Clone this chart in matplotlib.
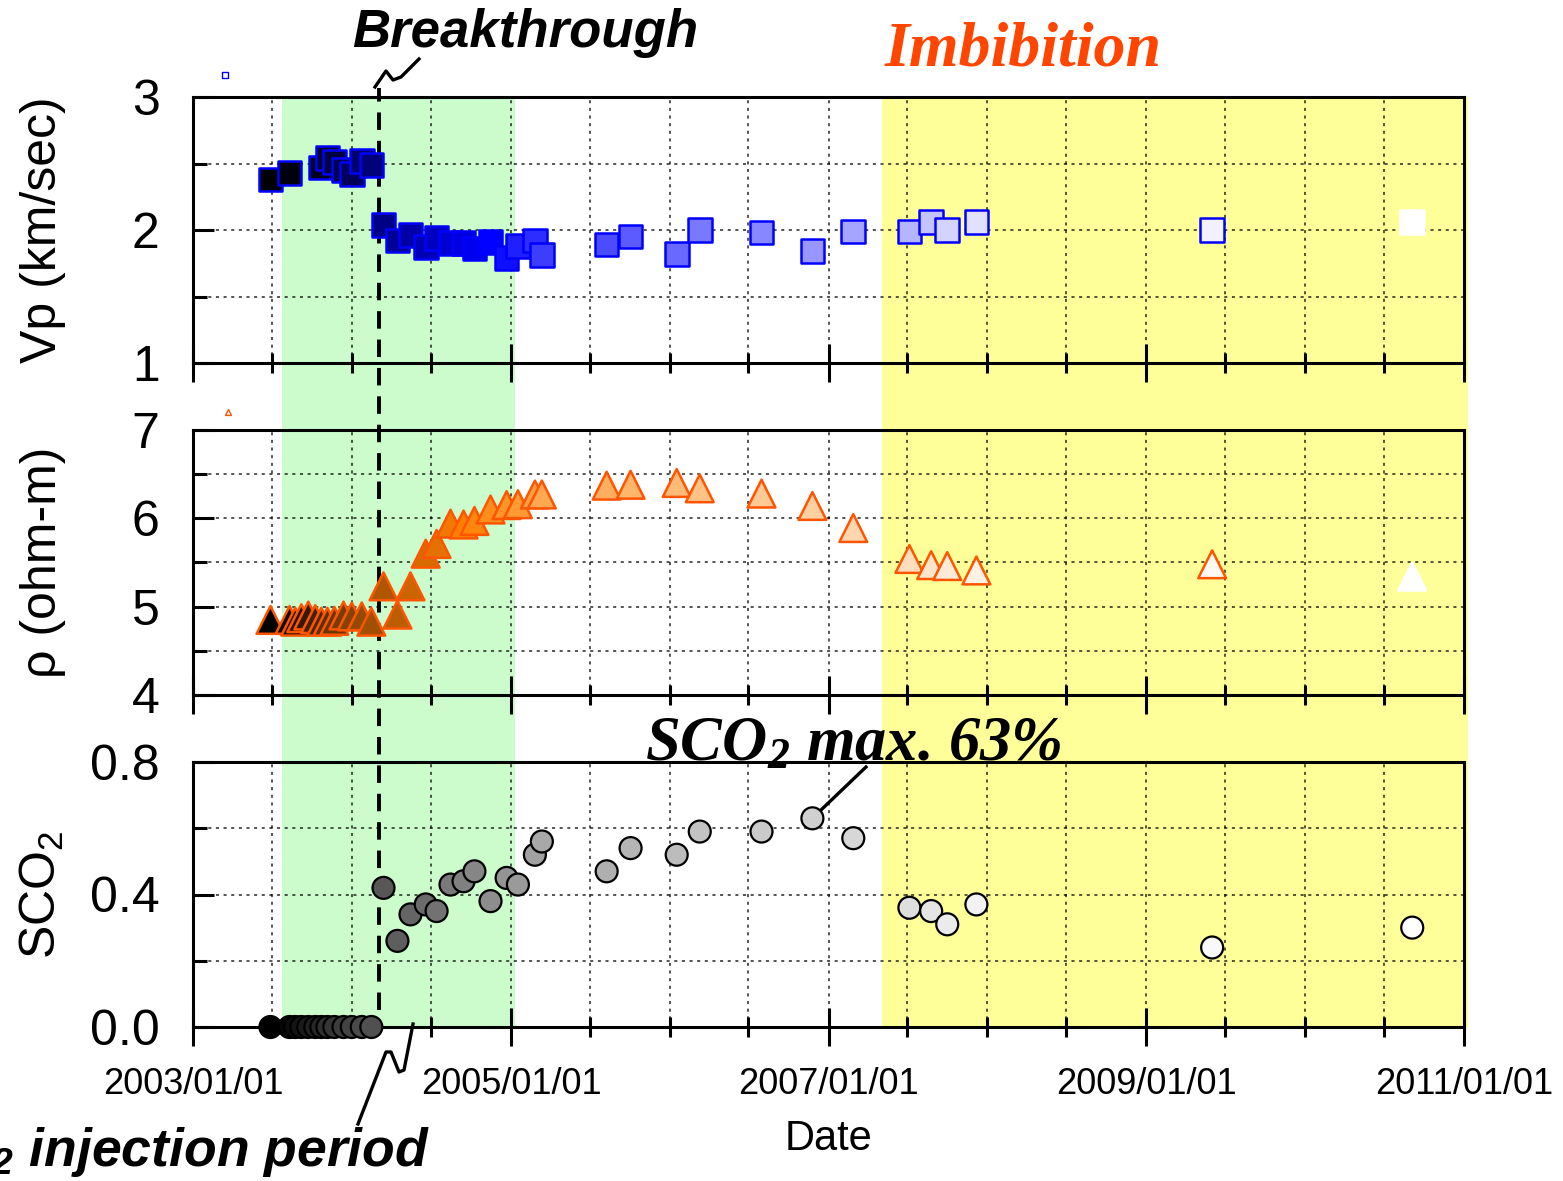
import matplotlib
matplotlib.use('Agg')
import matplotlib.pyplot as plt
import matplotlib.dates as mdates
import matplotlib.transforms as mtransforms
from matplotlib.colors import LinearSegmentedColormap
from matplotlib.lines import Line2D
from matplotlib.ticker import MultipleLocator, FixedLocator
import numpy as np
import pandas as pd

# ---- data ----
# dates of resistivity / CO2 saturation logs
log_dates = ['2003-06-28',
             '2003-08-11', '2003-08-24', '2003-09-07', '2003-09-23', '2003-10-09', '2003-10-23',
             '2003-11-06', '2003-11-22', '2003-12-13', '2004-01-01', '2004-01-24', '2004-02-15',
             '2004-03-14', '2004-04-15', '2004-05-15', '2004-06-19', '2004-07-14', '2004-08-15',
             '2004-09-14', '2004-10-09', '2004-11-15', '2004-12-22', '2005-01-17', '2005-02-25',
             '2005-03-13',
             '2005-08-09', '2005-10-03', '2006-01-17', '2006-03-11', '2006-07-31', '2006-11-25',
             '2007-02-27', '2007-07-06', '2007-08-25', '2007-10-01', '2007-12-07', '2009-06-01',
             '2010-09-04']
rho_vals = [4.85,
            4.85, 4.83, 4.87, 4.90, 4.86, 4.83, 4.83, 4.84, 4.90, 4.89, 4.89, 4.83,
            5.23, 4.91, 5.23, 5.60, 5.71, 5.94, 5.93, 5.97, 6.10, 6.15, 6.16, 6.27, 6.27,
            6.37, 6.38, 6.40, 6.34, 6.28, 6.14, 5.89, 5.54, 5.47, 5.46, 5.41, 5.48, 5.34]
sco2_vals = [0.0,
             0.0, 0.0, 0.0, 0.0, 0.0, 0.0, 0.0, 0.0, 0.0, 0.0, 0.0, 0.0,
             0.42, 0.26, 0.34, 0.37, 0.35, 0.43, 0.44, 0.47, 0.38, 0.45, 0.43, 0.52, 0.56,
             0.47, 0.54, 0.52, 0.59, 0.59, 0.63, 0.57, 0.36, 0.35, 0.31, 0.37, 0.24, 0.30]

# dates of sonic (Vp) logs
vp_dates = ['2003-06-28', '2003-08-11',
            '2003-10-23', '2003-11-06', '2003-11-22', '2003-12-13', '2004-01-01', '2004-01-24',
            '2004-02-15',
            '2004-03-14', '2004-04-15', '2004-05-15', '2004-06-19', '2004-07-14', '2004-08-15',
            '2004-09-14', '2004-10-09', '2004-11-15', '2004-12-22', '2005-01-17', '2005-02-25',
            '2005-03-13',
            '2005-08-09', '2005-10-03', '2006-01-17', '2006-03-11', '2006-07-31', '2006-11-25',
            '2007-02-27', '2007-07-06', '2007-08-25', '2007-10-01', '2007-12-07', '2009-06-01',
            '2010-09-04']
vp_vals = [2.38, 2.43,
           2.47, 2.54, 2.51, 2.45, 2.42, 2.52, 2.49,
           2.04, 1.92, 1.96, 1.87, 1.94, 1.90, 1.90, 1.86, 1.91, 1.79, 1.88, 1.92, 1.81,
           1.89, 1.95, 1.82, 2.00, 1.98, 1.84, 1.99, 1.99, 2.06, 2.00, 2.06, 2.00, 2.06]

# stray symbols left above the upper two panels
stray_vp_date, stray_vp = ['2003-03-15'], [3.165]
stray_rho_date, stray_rho = ['2003-03-22'], [7.20]

injection = ['2003-07-25', '2005-01-10']
imbibition = ['2007-05-05', '2011-01-10']
breakthrough = '2004-03-03'

xtick_dates = ['2003-01-01', '2005-01-01', '2007-01-01', '2009-01-01', '2011-01-01']
xtick_labels = ['2003/01/01', '2005/01/01', '2007/01/01', '2009/01/01', '2011/01/01']

plt.rcParams['font.family'] = ['Liberation Sans', 'DejaVu Sans']

W, H = 1563, 1181
fig = plt.figure(figsize=(W / 100, H / 100), dpi=100)


def fx(x):
    return x / W


def fy(y):
    return 1 - y / H


left, right = 193, 1464
xmin, xmax = pd.Timestamp('2003-01-01'), pd.Timestamp('2011-01-01')

# shaded periods behind all three panels
ax_bg = fig.add_axes([fx(left), fy(1027), fx(right) - fx(left), fy(97) - fy(1027)])
ax_bg.set_zorder(0)
ax_bg.axis('off')
ax_bg.set_xlim(xmin, xmax)
ax_bg.set_ylim(0, 1)
ax_bg.axvspan(pd.Timestamp(injection[0]), pd.Timestamp(injection[1]), color='#ccfccc', lw=0)
ax_bg.axvspan(pd.Timestamp(imbibition[0]), pd.Timestamp(imbibition[1]), color='#ffff99', lw=0,
              clip_on=False)
blend = mtransforms.blended_transform_factory(ax_bg.transData, ax_bg.transAxes)
bt = pd.Timestamp(breakthrough)
ax_bg.plot([bt, bt], [0.018, 1.01], transform=blend, color='k', lw=2.8,
           ls=(0, (4.5, 2.8)), clip_on=False)


def ramp(colors, n):
    cmap = LinearSegmentedColormap.from_list('ramp', colors)
    return cmap(np.linspace(0, 1, n))


panels = [(97, 363), (430, 695), (762, 1027)]
axes = []
for top, bot in panels:
    ax = fig.add_axes([fx(left), fy(bot), fx(right) - fx(left), fy(top) - fy(bot)])
    ax.set_zorder(1)
    ax.set_facecolor('none')
    ax.set_xlim(xmin, xmax)
    ax.xaxis.set_major_locator(FixedLocator(mdates.date2num(pd.to_datetime(xtick_dates))))
    ax.xaxis.set_minor_locator(mdates.MonthLocator(bymonth=[1, 7]))
    ax.tick_params(axis='x', which='major', direction='inout', length=28, width=2.2,
                   labelsize=26, pad=15, top=False)
    ax.tick_params(axis='x', which='minor', direction='inout', length=15, width=2.2, top=False)
    ax.tick_params(axis='y', which='major', direction='in', length=15, width=2.2,
                   labelsize=36, pad=24, right=False)
    ax.tick_params(axis='y', which='minor', direction='in', length=10, width=2.2, right=False)
    ax.grid(True, which='both', color='k', ls=(0, (2, 3)), lw=1.1, alpha=0.85)
    for sp in ax.spines.values():
        sp.set_linewidth(2.2)
    axes.append(ax)

ax1, ax2, ax3 = axes

# Vp panel
vp_d = pd.to_datetime(vp_dates)
n = len(vp_vals)
sq_edges = ['#0000ff'] * (n - 1) + ['white']
ax1.scatter(vp_d, vp_vals, marker='s', s=290, c=ramp(['black', 'blue', 'white'], n),
            edgecolors=sq_edges, linewidths=1.8, zorder=3, clip_on=False)
ax1.scatter(pd.to_datetime(stray_vp_date), stray_vp, marker='s', s=14, facecolors='white',
            edgecolors='#0000ff', linewidths=1.0, clip_on=False, zorder=3)
ax1.set_ylim(1, 3)
ax1.yaxis.set_major_locator(MultipleLocator(1))
ax1.yaxis.set_minor_locator(MultipleLocator(0.5))
ax1.set_ylabel('Vp (km/sec)', fontsize=36)
ax1.tick_params(labelbottom=False)

# resistivity panel
log_d = pd.to_datetime(log_dates)
n = len(rho_vals)
tri_edges = ['#ff5500'] * (n - 1) + ['white']
ax2.scatter(log_d, rho_vals, marker='^', s=400, c=ramp(['black', '#ff8000', 'white'], n),
            edgecolors=tri_edges, linewidths=1.8, zorder=3, clip_on=False)
ax2.scatter(pd.to_datetime(stray_rho_date), stray_rho, marker='^', s=18, facecolors='white',
            edgecolors='#ff5500', linewidths=1.0, clip_on=False, zorder=3)
ax2.set_ylim(4, 7)
ax2.yaxis.set_major_locator(MultipleLocator(1))
ax2.yaxis.set_minor_locator(MultipleLocator(0.5))
ax2.set_ylabel('ρ (ohm-m)', fontsize=36)
ax2.tick_params(labelbottom=False)

# CO2 saturation panel
n = len(sco2_vals)
ax3.scatter(log_d, sco2_vals, marker='o', s=250, c=ramp(['black', 'white'], n),
            edgecolors='black', linewidths=1.6, zorder=3, clip_on=False)
ax3.set_ylim(0, 0.8)
ax3.yaxis.set_major_locator(MultipleLocator(0.4))
ax3.yaxis.set_minor_locator(MultipleLocator(0.2))
ax3.yaxis.set_major_formatter(plt.FormatStrFormatter('%.1f'))
ax3.set_ylabel(r'SCO$\mathregular{_2}$', fontsize=36)
ax3.set_xticklabels(xtick_labels)
ax3.set_xlabel('Date', fontsize=30, labelpad=12)

for ax in axes:
    ax.yaxis.set_label_coords(-0.10, 0.5)

# annotations
fig.text(fx(352), fy(47), 'Breakthrough', fontsize=38, fontweight='bold',
         fontstyle='italic', va='baseline', ha='left')
fig.text(fx(885), fy(66), 'Imbibition', family='Liberation Serif', fontsize=46,
         fontweight='bold', fontstyle='italic', color='#ff4500', va='baseline', ha='left')
fig.text(fx(645), fy(760), r'SCO$\mathregular{_2}$ max. 63%', family='Liberation Serif',
         fontsize=45, fontweight='bold', fontstyle='italic', va='baseline', ha='left',
         zorder=5)
fig.text(fx(430), fy(1166), r'CO$\mathregular{_2}$ injection period', fontsize=38.5,
         fontweight='bold', fontstyle='italic', va='baseline', ha='right')

leaders = [
    ([375, 386, 393, 401, 419], [87, 71, 80, 77, 59]),
    ([358, 386, 391, 399, 404, 413], [1124, 1052, 1052, 1072, 1070, 1024]),
    ([821, 866], [810, 767]),
]
for xs, ys in leaders:
    fig.add_artist(Line2D([fx(v) for v in xs], [fy(v) for v in ys],
                          transform=fig.transFigure, color='k', lw=2.4))

fig.savefig('out.png', dpi=100)
